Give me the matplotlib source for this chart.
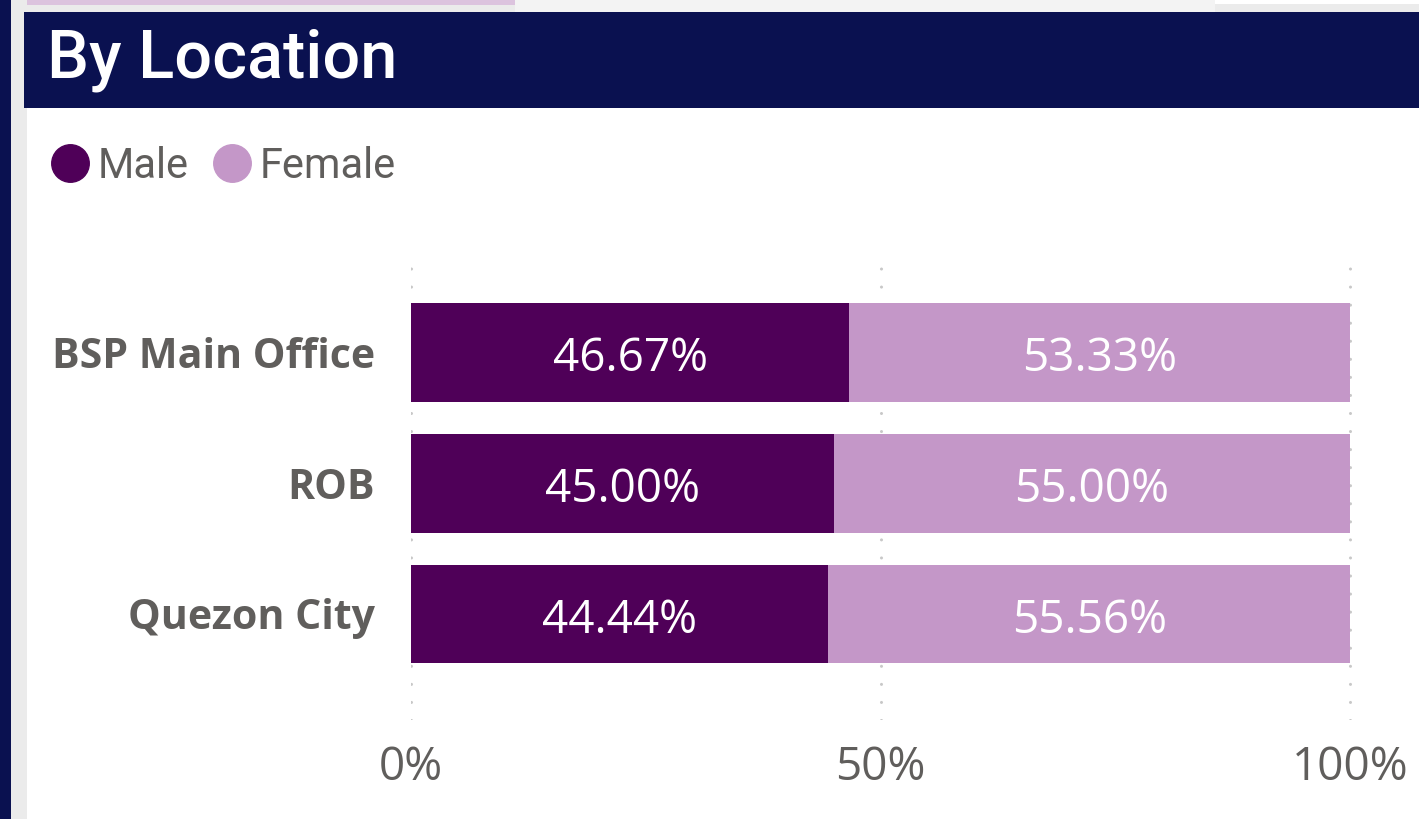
import matplotlib
matplotlib.use('Agg')
from matplotlib import pyplot as plt
from matplotlib.patches import Rectangle
from matplotlib.lines import Line2D

locations = ['BSP Main Office', 'ROB', 'Quezon City']
male = [46.67, 45.00, 44.44]
female = [53.33, 55.00, 55.56]
xticks = [0, 50, 100]
xticklabels = ['0%', '50%', '100%']

MALE_C = '#4F0058'
FEMALE_C = '#C497C8'
NAVY = '#0A1150'
GREY_TXT = '#605E5C'

W, H = 1419, 819
fig = plt.figure(figsize=(W / 100, H / 100), dpi=100, facecolor='white')


def rect(x0, y0, x1, y1, color):
    # pixel coords, y measured from top
    fig.add_artist(Rectangle((x0 / W, 1 - y1 / H), (x1 - x0) / W, (y1 - y0) / H,
                             transform=fig.transFigure, color=color, lw=0, zorder=0))


# report page frame
rect(0, 0, 11, H, NAVY)
rect(11, 0, 27, H, '#EBEBEB')
rect(11, 0, W, 12, '#EBEBEB')
rect(27, 0, 515, 5, '#DCC3DE')
rect(515, 0, 1215, 12, '#F3F3F3')
rect(1215, 0, W, 4, 'white')
rect(24, 12, W, 108, NAVY)

fig.text(47 / W, 1 - 77 / H, 'By Location', color='white', fontsize=48,
         family='Roboto', fontweight='medium', va='baseline', ha='left')

ax = fig.add_axes([411 / W, 1 - 720 / H, (1352 - 411) / W, (720 - 260) / H])
y = list(range(len(locations)))
ax.barh(y, male, height=0.755, color=MALE_C, zorder=2)
ax.barh(y, female, left=male, height=0.755, color=FEMALE_C, zorder=2)

for i in y:
    ax.text(male[i] / 2, i + 0.145, f'{male[i]:.2f}%', color='white', fontsize=33,
            family='Open Sans', ha='center', va='baseline', zorder=3)
    ax.text(male[i] + female[i] / 2, i + 0.145, f'{female[i]:.2f}%', color='white',
            fontsize=33, family='Open Sans', ha='center', va='baseline', zorder=3)

ax.set_xlim(0, 100.2)
ax.set_ylim(2.81, -0.705)
ax.set_xticks(xticks)
ax.set_xticklabels(xticklabels, fontsize=33, color=GREY_TXT, family='Open Sans')
ax.set_yticks(y)
ax.set_yticklabels(locations, fontsize=29.6, color=GREY_TXT, family='Open Sans',
                   fontweight='bold')
ax.tick_params(axis='both', length=0)
ax.tick_params(axis='x', pad=18)
ax.tick_params(axis='y', pad=26)
for s in ax.spines.values():
    s.set_visible(False)
ax.set_facecolor('none')
ax.set_axisbelow(True)
ax.xaxis.grid(True, color='#C8C8C8', linestyle=(0, (0.01, 5.9)), linewidth=2.2,
              dash_capstyle='round')

handles = [Line2D([], [], marker='o', linestyle='', markersize=27, color=MALE_C),
           Line2D([], [], marker='o', linestyle='', markersize=27, color=FEMALE_C)]
leg = fig.legend(handles, ['Male', 'Female'], loc='center left',
                 bbox_to_anchor=(49 / W, 1 - 166 / H), ncol=2, frameon=False,
                 borderpad=0, borderaxespad=0, handlelength=1.0, handletextpad=0.175,
                 columnspacing=0.53, prop={'family': 'Roboto', 'size': 30})
for t in leg.get_texts():
    t.set_color(GREY_TXT)

fig.savefig('out.png', dpi=100, facecolor='white')
